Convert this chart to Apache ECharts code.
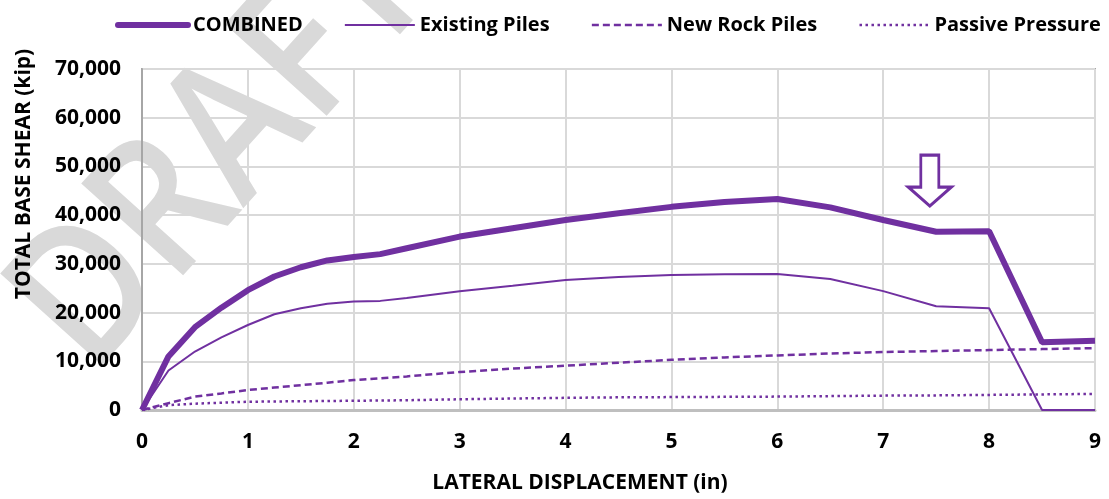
<!DOCTYPE html>
<html>
<head>
<meta charset="utf-8">
<script src="https://cdn.jsdelivr.net/npm/echarts@6/dist/echarts.min.js"></script>
<style>
html,body{margin:0;padding:0;background:#fff;}
#chart{width:1109px;height:499px;}
</style>
</head>
<body>
<div id="chart"></div>
<script>
// Lateral displacement (in)
var displacement = [0,0.25,0.5,0.75,1,1.25,1.5,1.75,2,2.25,2.5,3,3.5,4,4.5,5,5.5,6,6.5,7,7.5,8,8.5,9];
// Total base shear (kip)
var combined      = [0,11000,17000,21000,24600,27400,29300,30700,31400,32000,33200,35600,37300,39000,40400,41700,42700,43300,41600,39000,36600,36700,13900,14200];
var existingPiles = [0,8100,12000,14900,17450,19650,20900,21800,22250,22400,23000,24400,25500,26700,27300,27700,27850,27900,26900,24400,21300,20900,0,0];
var newRockPiles  = [0,1400,2750,3400,4100,4600,5100,5600,6150,6500,6900,7800,8500,9100,9700,10300,10800,11200,11600,11900,12100,12300,12500,12700];
var passive       = [0,1000,1300,1500,1700,1750,1800,1850,1900,1950,2000,2200,2350,2500,2600,2650,2700,2750,2850,2950,3000,3100,3200,3300];
var seriesNames = ['COMBINED','Existing Piles','New Rock Piles','Passive Pressure'];
var lineWidths = [6, 2, 2.5, 2.5];
var lineTypes = ['solid', 'solid', [7,4], [2.5,3.5]];
var xTicks = [0,9,1];
var yTicks = [0,70000,10000];
var arrowAt = [7.44, 47100];

function pairs(v){ return displacement.map(function(x,i){ return [x, v[i]]; }); }

var purple = '#7030A0';
var FONT = '"Open Sans", "Noto Sans", sans-serif';

var chart = echarts.init(document.getElementById('chart'), null, {renderer:'canvas'});
var option = {
  animation:false,
  backgroundColor:'#fff',
  textStyle:{fontFamily:FONT},
  graphic:[{
    type:'text',
    z:-1,
    x:224, y:148,
    rotation: 48*Math.PI/180,
    scaleX:0.86,
    style:{
      text:'DRAFT',
      fontSize:192,
      fontFamily:FONT,
      fontWeight:600,
      fill:'#d9d9d9',
      align:'center',
      verticalAlign:'middle'
    }
  }],
  legend:{
    left:110, top:10, width:1000,
    itemWidth:70, itemHeight:14, itemGap:41,
    itemStyle:{opacity:0},
    textStyle:{fontSize:20, fontWeight:'bold', color:'#000', fontFamily:FONT},
    data:seriesNames.map(function(n,i){
      return {name:n, itemStyle:{opacity:0}, lineStyle:{width:lineWidths[i], type:lineTypes[i], color:purple, cap: i===0 ? 'round' : 'butt'}};
    })
  },
  grid:{z:-2, left:142, right:14, top:69, bottom:89, show:true, backgroundColor:'transparent', borderColor:'#a6a6a6', borderWidth:2, containLabel:false},
  xAxis:{
    type:'value', min:xTicks[0], max:xTicks[1], interval:xTicks[2],
    name:'LATERAL DISPLACEMENT (in)', nameLocation:'middle', nameGap:63,
    nameTextStyle:{fontSize:21, fontWeight:'bold', color:'#000', fontFamily:FONT, padding:[0,77,0,0]},
    axisLine:{show:true, lineStyle:{color:'#bfbfbf', width:3}},
    axisTick:{show:false},
    axisLabel:{fontSize:21, fontWeight:'bold', color:'#000', margin:22, fontFamily:FONT},
    splitLine:{show:true, lineStyle:{color:'#d9d9d9', width:2}}
  },
  yAxis:{
    type:'value', min:yTicks[0], max:yTicks[1], interval:yTicks[2],
    name:'TOTAL BASE SHEAR (kip)', nameLocation:'middle', nameGap:107,
    nameTextStyle:{fontSize:21, fontWeight:'bold', color:'#000', fontFamily:FONT, padding:[0,0,0,131]},
    axisLine:{show:true, lineStyle:{color:'#a6a6a6', width:2}},
    axisTick:{show:false},
    axisLabel:{fontSize:21, fontWeight:'bold', color:'#000', margin:21, fontFamily:FONT,
      formatter:function(v){ return v.toLocaleString('en-US'); }},
    splitLine:{show:true, lineStyle:{color:'#d9d9d9', width:2}}
  },
  series:[
    {name:seriesNames[0], type:'line', data:pairs(combined), symbol:'none', z:5,
     lineStyle:{color:purple, width:lineWidths[0]}, itemStyle:{color:purple},
     markPoint:{
       silent:true,
       symbol:'path://M12.5,0 L30.5,0 L30.5,32 L43,32 L21.5,51 L0,32 L12.5,32 Z',
       symbolSize:[43,51],
       label:{show:false},
       itemStyle:{color:'#fff', borderColor:purple, borderWidth:3},
       data:[{coord:arrowAt}]
     }},
    {name:seriesNames[1], type:'line', data:pairs(existingPiles), symbol:'none', z:4,
     lineStyle:{color:purple, width:lineWidths[1]}, itemStyle:{color:purple}},
    {name:seriesNames[2], type:'line', data:pairs(newRockPiles), symbol:'none', z:3,
     lineStyle:{color:purple, width:lineWidths[2], type:lineTypes[2]}, itemStyle:{color:purple}},
    {name:seriesNames[3], type:'line', data:pairs(passive), symbol:'none', z:3,
     lineStyle:{color:purple, width:lineWidths[3], type:lineTypes[3]}, itemStyle:{color:purple}}
  ]
};
chart.setOption(option);
</script>
</body>
</html>
